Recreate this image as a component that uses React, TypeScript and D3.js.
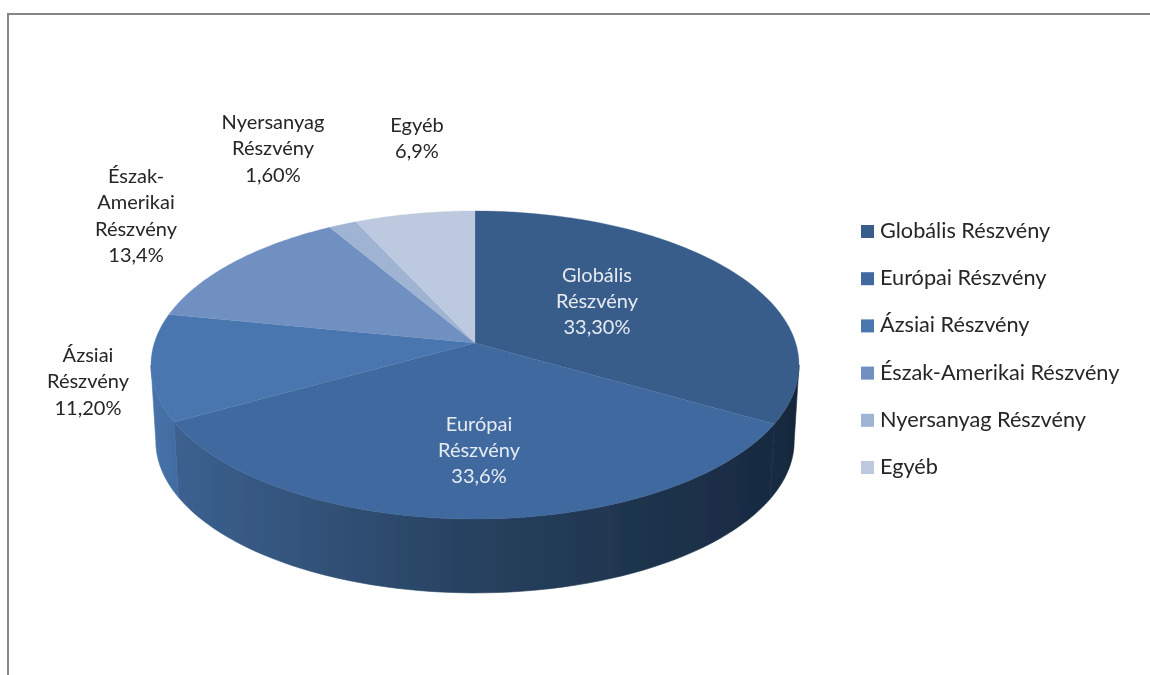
import React from "react";
import * as d3 from "d3";

const categories = ["Globális Részvény", "Európai Részvény", "Ázsiai Részvény", "Észak-Amerikai Részvény", "Nyersanyag Részvény", "Egyéb"];
const values = [33.3, 33.6, 11.2, 13.4, 1.6, 6.9];
const topColors = ["#395d8a", "#406b9f", "#4876ae", "#7090c2", "#9fb3d3", "#bcc9de"];
const sideLeft = ["#1a2c44", "#3c6190", "#4773aa", "#6a8abb", "#93a7c7", "#aebcd2"];
const sideRight = ["#16263a", "#182a41", "#416ca1", "#5d7eae", "#8699ba", "#a2b1c9"];
const labelLines = [["Globális", "Részvény", "33,30%"], ["Európai", "Részvény", "33,6%"], ["Ázsiai", "Részvény", "11,20%"], ["Észak-", "Amerikai", "Részvény", "13,4%"], ["Nyersanyag", "Részvény", "1,60%"], ["Egyéb", "6,9%"]];
const labelX = [597, 479, 88, 136, 273, 417];
const labelY = [275.5, 424.5, 356, 177, 123, 126];
const labelColor = ["#e6ebf2", "#e6ebf2", "#262626", "#262626", "#262626", "#262626"];

const FONT = "Lato, 'Open Sans', sans-serif";
const CX = 475, AY = 343, W = 1 / 7, A = 320.7, B = 150.9, DEPTH = 76.5, S = 0.985;

type P = [number, number];
const project = (ang: number, z: number): P => {
  const u = Math.sin(ang), v = -Math.cos(ang), k = 1 - W * v;
  const s = z ? S : 1;
  return [CX + (s * A * u) / k, AY + (z ? DEPTH : 0) + (s * B * v) / k];
};
const line = d3.line<P>();
const pieGen = d3.pie<number>().sort(null).value((d) => d);
const arcs = pieGen(values);
const samples = (a0: number, a1: number, z: number) => d3.range(0, 61).map((i) => project(a0 + ((a1 - a0) * i) / 60, z));
const legendY = d3.scalePoint<string>().domain(categories).range([231, 467]);

// The side wall only shows between the two angles where the outline is widest.
const visFrom = Math.acos(-W);
const visTo = 2 * Math.PI - visFrom;
const sideArcs = arcs
  .map((a, i) => ({ i, a0: Math.max(a.startAngle, visFrom), a1: Math.min(a.endAngle, visTo) }))
  .filter((s) => s.a1 > s.a0);

export default function App() {
  return (
    <svg width={1150} height={675} style={{ position: "fixed", left: 0, top: 0, display: "block", background: "#fff" }} fontFamily={FONT}>
      <defs>
        <filter id="soft" x="-5%" y="-5%" width="110%" height="110%">
          <feGaussianBlur stdDeviation="0.35" />
        </filter>
        {sideArcs.map(({ i, a0, a1 }) => {
          const xs = [...samples(a0, a1, 0), ...samples(a0, a1, 1)].map((p) => p[0]);
          return (
            <linearGradient key={i} id={`side${i}`} gradientUnits="userSpaceOnUse" x1={d3.min(xs)} x2={d3.max(xs)} y1={0} y2={0}>
              <stop offset="0" stopColor={sideLeft[i]} />
              {i === 1 && <stop offset="0.5" stopColor="#27415f" />}
              <stop offset="1" stopColor={sideRight[i]} />
            </linearGradient>
          );
        })}
      </defs>
      <path d="M8,675V14H1150" fill="none" stroke="#868686" strokeWidth={2} />
      <g filter="url(#soft)">
        {sideArcs.map(({ i, a0, a1 }) => {
          const top = samples(a0, a1, 0);
          const bot = samples(a0, a1, 1).reverse();
          return <path key={i} d={line([...top, ...bot])! + "Z"} fill={`url(#side${i})`} stroke={`url(#side${i})`} strokeWidth={0.6} />;
        })}
        {arcs.map((a, i) => (
          <path key={i} d={line([[CX, AY], ...samples(a.startAngle, a.endAngle, 0)])! + "Z"} fill={topColors[i]} stroke={topColors[i]} strokeWidth={0.3} />
        ))}
      </g>
      <g filter="url(#soft)">
        {labelLines.map((ls, i) => (
          <text key={i} textAnchor="middle" fontSize={20} fill={labelColor[i]}>
            {ls.map((t, j) => (
              <tspan key={j} x={labelX[i]} y={labelY[i] + 6 + j * 26.3}>{t}</tspan>
            ))}
          </text>
        ))}
        {categories.map((c, i) => (
          <g key={c}>
            <rect x={861} y={legendY(c)! - 6} width={13} height={13} fill={topColors[i]} />
            <text x={880} y={legendY(c)! + 7} fontSize={21.7} fill="#262626">{c}</text>
          </g>
        ))}
      </g>
    </svg>
  );
}
